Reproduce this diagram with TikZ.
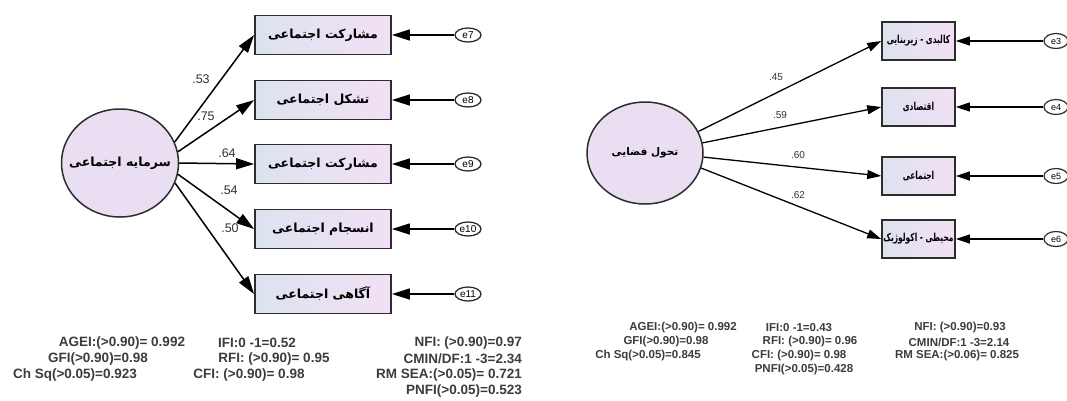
\documentclass[tikz,border=0pt]{standalone}
\usepackage{fontspec}
\setmainfont{Liberation Sans}
\newfontfamily\fa[Script=Arabic]{DejaVu Sans}
\TeXXeTstate=1
\usetikzlibrary{arrows.meta,shapes.geometric}
\definecolor{boxL}{RGB}{220,227,238}
\definecolor{boxR}{RGB}{242,224,245}
\definecolor{circfill}{RGB}{234,222,243}
\definecolor{edgec}{RGB}{45,45,45}
\definecolor{statc}{RGB}{60,60,60}
\definecolor{numc}{RGB}{50,50,50}
\newcommand{\narrowR}[1]{\scalebox{0.68}[1]{\beginR #1\endR}}
\begin{document}
\begin{tikzpicture}[x=1pt,y=-1pt,
  latent/.style={ellipse,draw=edgec,line width=1.5pt,fill=circfill,inner sep=0pt},
  obsL/.style={rectangle,draw=edgec,line width=1.8pt,left color=boxL,right color=boxR,
    minimum width=136pt,minimum height=39pt,inner sep=0pt,font=\fa\bfseries\fontsize{12.5}{14}\selectfont},
  obsR/.style={rectangle,draw=edgec,line width=1.6pt,left color=boxL,right color=boxR,
    minimum width=73pt,minimum height=38pt,inner sep=0pt,font=\fa\bfseries\fontsize{11}{12}\selectfont},
  errL/.style={ellipse,draw=edgec,line width=1.3pt,fill=white,minimum width=26pt,minimum height=14pt,inner sep=0pt,font=\fontsize{10}{10}\selectfont},
  errR/.style={ellipse,draw=edgec,line width=1.2pt,fill=white,minimum width=24pt,minimum height=15pt,inner sep=0pt,font=\fontsize{9}{9}\selectfont},
  pathL/.style={draw=black,line width=1.5pt,-{Triangle[length=18pt,width=11pt]}},
  pathR/.style={draw=black,line width=1.3pt,-{Triangle[length=14pt,width=9pt]}},
  coefL/.style={font=\fontsize{12.5}{13}\selectfont,text=numc,inner sep=0pt},
  coefR/.style={font=\fontsize{10}{11}\selectfont,text=numc,inner sep=0pt},
  statL/.style={font=\bfseries\fontsize{13.5}{14}\selectfont,text=statc,inner sep=0pt},
  statR/.style={font=\bfseries\fontsize{11.5}{12}\selectfont,text=statc,inner sep=0pt}
]
\useasboundingbox[fill=white] (0,0) rectangle (1067,400);

% ---------------- left model ----------------
\node[latent,minimum width=117pt,minimum height=108pt] (L) at (120,163)
  {\makebox[0pt]{\fa\bfseries\fontsize{12.5}{14}\selectfont\beginR سرمایه اجتماعی\endR}};
\node[obsL] (b1) at (323,35) {\beginR مشارکت اجتماعی\endR};
\node[obsL] (b2) at (323,100) {\beginR تشکل اجتماعی\endR};
\node[obsL] (b3) at (323,164) {\beginR مشارکت اجتماعی\endR};
\node[obsL] (b4) at (323,229) {\beginR انسجام اجتماعی\endR};
\node[obsL] (b5) at (323,294) {\beginR آگاهی اجتماعی\endR};
\node[errL] (e7) at (468,35) {e7};
\node[errL] (e8) at (468,100) {e8};
\node[errL] (e9) at (468,164) {e9};
\node[errL] (e10) at (468,229) {e10};
\node[errL] (e11) at (468,294) {e11};
\draw[pathL] (L.21) -- (b1.west);
\draw[pathL] (L.11) -- (b2.west);
\draw[pathL] (L.0) -- (b3.west);
\draw[pathL] (L.-11) -- (b4.west);
\draw[pathL] (L.-20) -- (b5.west);
\foreach \i/\j in {e7/b1,e8/b2,e9/b3,e10/b4,e11/b5}{\draw[pathL] (\i.west) -- (\j.east);}
\node[coefL] (c1) at (201,79) {.53};
\node[coefL] (c2) at (206,116) {.75};
\node[coefL] (c3) at (227,153) {.64};
\node[coefL] (c4) at (229,190) {.54};
\node[coefL] (c5) at (230,228) {.50};

\node[statL] (s1) at (122,343) {AGEI:(>0.90)= 0.992};
\node[statL] (s2) at (98,359) {GFI(>0.90)=0.98};
\node[statL] (s3) at (75,375) {Ch Sq(>0.05)=0.923};
\node[statL] (s4) at (257,343) {IFI:0 -1=0.52};
\node[statL] (s5) at (274,359) {RFI: (>0.90)= 0.95};
\node[statL] (s6) at (249,375) {CFI: (>0.90)= 0.98};
\node[statL,anchor=east] (s7) at (522,343) {NFI: (>0.90)=0.97};
\node[statL,anchor=east] (s8) at (522,359) {CMIN/DF:1 -3=2.34};
\node[statL,anchor=east] (s9) at (522,375) {RM SEA:(>0.05)= 0.721};
\node[statL,anchor=east] (s10) at (522,391) {PNFI(>0.05)=0.523};

% ---------------- right model ----------------
\node[latent,minimum width=116pt,minimum height=102pt] (R) at (645,153)
  {\makebox[0pt]{\fa\bfseries\fontsize{10.5}{12}\selectfont\beginR تحول فضایی\endR}};
\node[obsR] (r1) at (918.5,41) {\narrowR{کالبدی - زیربنایی}};
\node[obsR] (r2) at (918.5,107) {\narrowR{اقتصادی}};
\node[obsR] (r3) at (918.5,176) {\narrowR{اجتماعی}};
\node[obsR] (r4) at (918.5,239) {\narrowR{محیطی - اکولوژیک}};
\node[errR] (e3) at (1056,41) {e3};
\node[errR] (e4) at (1056,107) {e4};
\node[errR] (e5) at (1056,176) {e5};
\node[errR] (e6) at (1056,239) {e6};
\draw[pathR] (R.22) -- (r1.west);
\draw[pathR] (R.10) -- (r2.west);
\draw[pathR] (R.-4) -- (r3.west);
\draw[pathR] (R.-15) -- (r4.west);
\foreach \i/\j in {e3/r1,e4/r2,e5/r3,e6/r4}{\draw[pathR] (\i.west) -- (\j.east);}
\node[coefR] (d1) at (776,77) {.45};
\node[coefR] (d2) at (780,115) {.59};
\node[coefR] (d3) at (798,155) {.60};
\node[coefR] (d4) at (798,195) {.62};

\node[statR] (t1) at (683,328) {AGEI:(>0.90)= 0.992};
\node[statR] (t2) at (666,342) {GFI(>0.90)=0.98};
\node[statR] (t3) at (648,356) {Ch Sq(>0.05)=0.845};
\node[statR] (t4) at (799,328) {IFI:0 -1=0.43};
\node[statR] (t5) at (810,342) {RFI: (>0.90)= 0.96};
\node[statR] (t6) at (799,356) {CFI: (>0.90)= 0.98};
\node[statR] (t7) at (804,370) {PNFI(>0.05)=0.428};
\node[statR] (t8) at (960,328) {NFI: (>0.90)=0.93};
\node[statR] (t9) at (959,342) {CMIN/DF:1 -3=2.14};
\node[statR] (t10) at (957,356) {RM SEA:(>0.06)= 0.825};
\end{tikzpicture}
\end{document}
